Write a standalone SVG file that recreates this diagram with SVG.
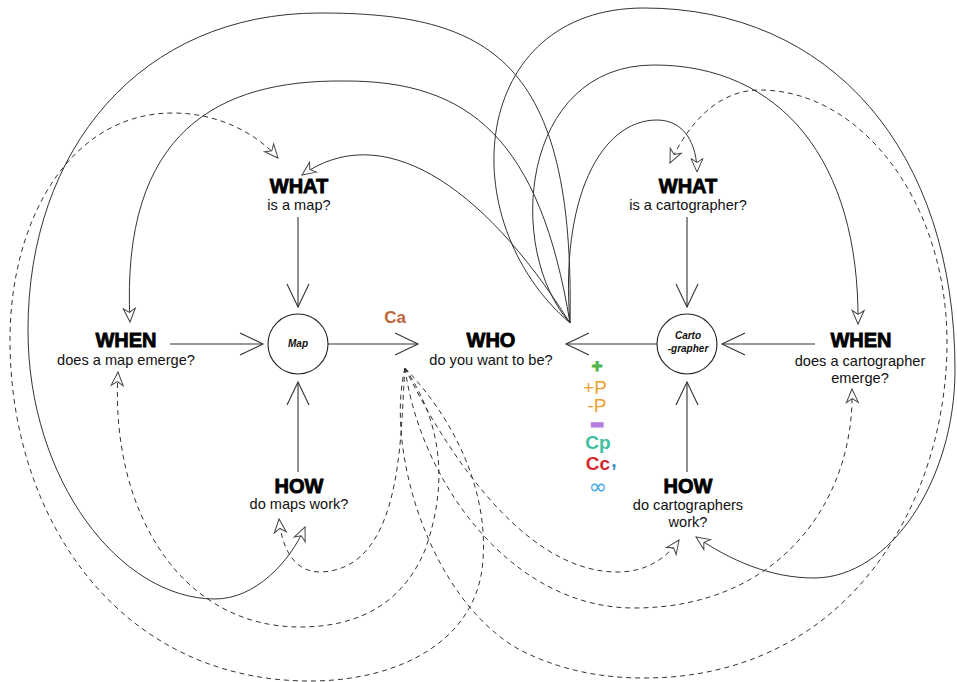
<svg xmlns="http://www.w3.org/2000/svg" width="957" height="682" viewBox="0 0 957 682">
<style>
.t{font-family:"Liberation Sans",Arial,sans-serif;font-weight:bold;font-size:20px;text-anchor:middle;fill:#000;stroke:#000;stroke-width:0.8}
.s{font-family:"Liberation Sans",Arial,sans-serif;font-size:14.6px;text-anchor:middle;fill:#111}
.c{font-family:"Liberation Sans",Arial,sans-serif;font-weight:bold;font-style:italic;font-size:10px;text-anchor:middle;fill:#111}
.sym{font-family:"Liberation Sans",Arial,sans-serif;font-size:19px;text-anchor:middle}
.node circle{fill:#fff;stroke:#222;stroke-width:1.1}
.st line{stroke:#333;stroke-width:1.1;marker-end:url(#v)}
.cv path{fill:none;stroke:#333;stroke-width:1;marker-end:url(#h)}
.cv path.d{stroke-dasharray:5 4}
</style>
<defs>
<marker id="v" viewBox="0 0 24 22" refX="23" refY="11" markerWidth="24" markerHeight="22" markerUnits="userSpaceOnUse" orient="auto" overflow="visible">
<path d="M0,0 L23,11 L0,22" fill="none" stroke="#333" stroke-width="1.1"/>
</marker>
<marker id="h" viewBox="0 0 16 14" refX="14.5" refY="7" markerWidth="16" markerHeight="14" markerUnits="userSpaceOnUse" orient="auto" overflow="visible">
<path d="M1,1 L14.5,7 L1,13 L5,7 Z" fill="#fff" stroke="#444" stroke-width="1" stroke-dasharray="none"/>
</marker>
</defs>
<rect width="957" height="682" fill="#fff"/>

<g id="connectors">
<g class="st">
<line x1="298" y1="217" x2="298" y2="307"/>
<line x1="170" y1="344" x2="263" y2="344"/>
<line x1="298" y1="472" x2="298" y2="382"/>
<line x1="328" y1="344" x2="418" y2="344"/>
<line x1="657" y1="344" x2="566" y2="344"/>
<line x1="687" y1="217" x2="687" y2="307"/>
<line x1="815" y1="344" x2="722" y2="344"/>
<line x1="687" y1="472" x2="687" y2="382"/>
</g>
<g class="cv">
<path d="M570,323 C480,180 380,120 302,175"/>
<path d="M570,323 C540,140 470,80 343,81 C220,80 120,130 130,322"/>
<path d="M570,323 C575,60 490,13 320,13 C140,13 28,150 28,330 C28,480 120,599 215,599 C255,599 290,562 305,527"/>
<path d="M570,323 C450,220 470,8 644,8 C830,8 955,150 955,370 C955,480 890,578 814,578 C770,578 730,560 696,537"/>
<path d="M570,323 C505,250 520,65 654,65 C780,65 860,160 858,324"/>
<path d="M570,323 C560,200 600,120 657,120 C685,120 697,145 697,172"/>
<path class="d" d="M405,368 C455,420 488,490 483,560 C478,640 400,681 310,681 C120,681 10,520 10,340 C10,220 70,113 173,113 C220,113 258,135 278,158"/>
<path class="d" d="M405,368 C440,420 450,480 425,550 C400,610 350,627 300,627 C180,627 110,510 118,372"/>
<path class="d" d="M405,368 C400,430 405,570 320,572 C295,572 282,550 279,519"/>
<path class="d" d="M405,368 C440,440 520,572 617,572 C645,572 665,560 679,540"/>
<path class="d" d="M405,368 C420,480 510,608 634,608 C780,608 855,500 852,389"/>
<path class="d" d="M405,368 C385,450 430,600 520,650 C560,670 600,678 644,678 C850,678 948,500 947,340 C946,200 860,90 760,90 C720,90 690,120 670,163"/>
</g>
</g>

<g id="what-map" class="node"><text class="t" x="299" y="193">WHAT</text><text class="s" x="299" y="210">is a map?</text></g>
<g id="when-map" class="node"><text class="t" x="126" y="347">WHEN</text><text class="s" x="126" y="365">does a map emerge?</text></g>
<g id="map" class="node"><circle cx="298" cy="344" r="30"/><text class="c" x="298" y="347">Map</text></g>
<g id="how-map" class="node"><text class="t" x="299" y="493">HOW</text><text class="s" x="299" y="509">do maps work?</text></g>
<g id="who" class="node"><text class="t" x="491" y="347">WHO</text><text class="s" x="491" y="365">do you want to be?</text></g>
<g id="what-carto" class="node"><text class="t" x="688" y="193">WHAT</text><text class="s" x="688" y="210">is a cartographer?</text></g>
<g id="carto" class="node"><circle cx="687" cy="344" r="30"/><text class="c" x="688" y="339">Carto</text><text class="c" x="688" y="352">-grapher</text></g>
<g id="when-carto" class="node"><text class="t" x="861" y="347">WHEN</text><text class="s" x="860" y="366">does a cartographer</text><text class="s" x="860" y="383">emerge?</text></g>
<g id="how-carto" class="node"><text class="t" x="688" y="493">HOW</text><text class="s" x="688" y="510">do cartographers</text><text class="s" x="688" y="527">work?</text></g>

<g id="ca-label"><text x="395" y="323" font-family="Liberation Sans, Arial, sans-serif" font-weight="bold" font-size="17" text-anchor="middle" fill="#c0643c">Ca</text></g>
<g id="symbols">
<text class="sym" x="597" y="371.5" fill="#4db848" stroke="#4db848" stroke-width="0.9" font-weight="bold" font-size="19">+</text>
<text class="sym" x="595" y="394" fill="#f0a030" font-size="20">+P</text>
<text class="sym" x="597" y="412" fill="#f0a030" font-size="19">-P</text>
<text class="sym" x="597" y="431" fill="#b57ee0" font-weight="bold" font-size="14" stroke="#b57ee0" stroke-width="3.2">−</text>
<text class="sym" x="598" y="449" fill="#3cc0a0" font-weight="bold" font-size="20">Cp</text>
<text class="sym" x="598" y="469.5" fill="#d42a2e" font-weight="bold" font-size="19">Cc</text>
<text class="sym" x="614" y="467" fill="#2f86b8" font-weight="bold" font-size="20">,</text>
<text x="598" y="494" fill="#3aa8e6" font-family="DejaVu Sans, sans-serif" font-size="22" text-anchor="middle">∞</text>
</g>
</svg>
